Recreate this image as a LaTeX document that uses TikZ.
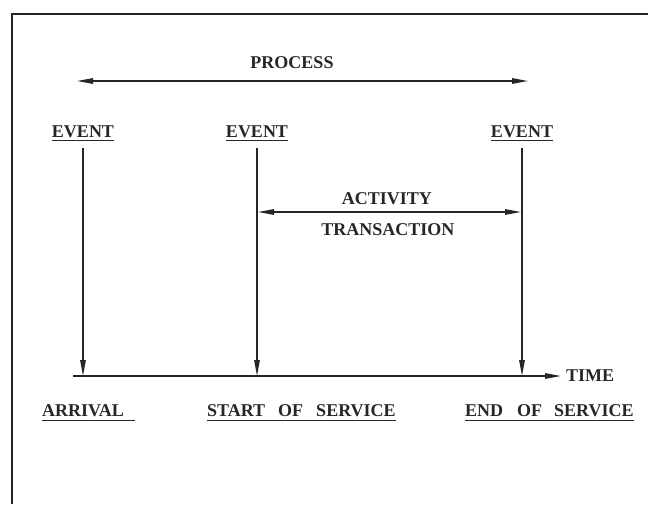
\documentclass[tikz,border=0pt]{standalone}
\usepackage{fontspec}
\setmainfont{Liberation Serif}
\usetikzlibrary{arrows.meta}
\definecolor{ink}{HTML}{262626}
\begin{document}
\begin{tikzpicture}[x=1pt,y=-1pt,
  txt/.style={font=\fontsize{18}{20}\selectfont\bfseries, text=ink,
              inner sep=0pt, text depth=0pt},
  uline/.style={draw=ink, line width=1.3pt},
  arr/.style={draw=ink, line width=1.4pt,
              arrows={-Triangle[length=16pt,width=5.5pt]}},
  darr/.style={draw=ink, line width=1.4pt,
              arrows={Triangle[length=16pt,width=5.5pt]-Triangle[length=16pt,width=5.5pt]}},
  frame/.style={draw=ink, line width=2pt}]
\useasboundingbox (0,0) rectangle (648,504);

% partial frame: top and left edges
\draw[frame] (648,14) -- (12,14) -- (12,504);

% overall process span
\node[txt] (process) at (292,63) {PROCESS};
\coordinate (pl) at (77,81);
\coordinate (pr) at (528,81);
\draw[darr] (pl) -- (pr);

% events
\node[txt, anchor=base] (ev1) at (83,137) {EVENT};
\node[txt, anchor=base] (ev2) at (257,137) {EVENT};
\node[txt, anchor=base] (ev3) at (522,137) {EVENT};
\foreach \n in {ev1,ev2,ev3}
  \draw[uline] ([yshift=-3pt]\n.south west) -- ([yshift=-3pt]\n.south east);

% time axis
\coordinate (ax0) at (73,376);
\node[txt, anchor=west, inner xsep=5pt] (time) at (561,376) {TIME};
\draw[arr] (ax0) -- (time.west);

% points on the axis
\coordinate (t1) at (83,376);
\coordinate (t2) at (257,376);
\coordinate (t3) at (522,376);
\draw[arr, shorten <=11pt] (ev1.south) -- (t1);
\draw[arr, shorten <=11pt] (ev2.south) -- (t2);
\draw[arr, shorten <=11pt] (ev3.south) -- (t3);

% activity / transaction span
\node[txt, anchor=base] (act) at (387,204) {ACTIVITY};
\node[txt, anchor=base] (trans) at (388,235) {TRANSACTION};
\coordinate (a1) at (258,212);
\coordinate (a2) at (521,212);
\draw[darr] (a1) -- (a2);

% labels under the axis
\node[txt, anchor=base west] (arrival) at (42,416) {ARRIVAL};
\node[txt, anchor=base west] (start) at (207,416)
  {START\hspace{13pt}OF\hspace{13pt}SERVICE};
\node[txt, anchor=base west] (end) at (465,416)
  {END\hspace{14pt}OF\hspace{12pt}SERVICE};
\draw[uline] ([yshift=-4pt]arrival.south west) -- ([yshift=-4pt,xshift=11pt]arrival.south east);
\draw[uline] ([yshift=-4pt]start.south west) -- ([yshift=-4pt]start.south east);
\draw[uline] ([yshift=-4pt]end.south west) -- ([yshift=-4pt]end.south east);
\end{tikzpicture}
\end{document}
